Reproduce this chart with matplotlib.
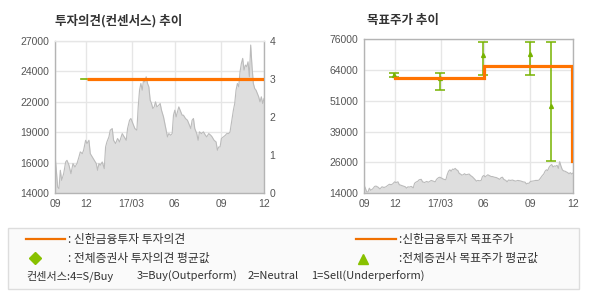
import numpy as np
import matplotlib
matplotlib.use("Agg")
import matplotlib.pyplot as plt
from matplotlib.patches import Rectangle
from matplotlib.lines import Line2D

# ---------------- data ----------------
# trading-day index of price samples (0 = left edge, 314 = right edge)
price_day = [0,2,4,6,8,10,13,16,18,21,24,27,30,33,36,38,41,43,46,48,51,53,56,59,62,64,66,68,71,74,
             76,78,81,83,86,88,91,94,97,101,104,107,109,112,114,117,120,123,125,127,129,131,133,135,137,
             139,141,143,145,147,149,151,153,156,158,160,163,165,167,169,171,174,176,178,180,182,184,186,
             188,191,193,196,199,202,204,206,208,210,213,215,217,220,223,226,228,231,234,236,239,242,244,
             246,248,250,253,256,258,261,263,266,268,270,272,274,276,278,280,282,284,286,288,290,292,294,
             296,298,300,302,304,306,308,310,312,314]
price = [17220,15940,14510,14370,15940,15080,15650,16650,16790,16370,15650,16510,16220,16510,17080,
         17510,17360,17650,18500,18220,18500,17360,17080,16790,16510,15940,16510,16370,16650,16080,
         17930,18360,18790,19360,19500,18500,18220,18650,18360,19070,18790,18500,19500,20210,20360,
         19930,19500,19360,21350,22780,23350,22780,23630,23490,23920,23350,23060,21920,21640,21210,
         21350,21780,21350,21500,21640,21070,20500,19930,19360,18790,19070,18930,19070,20640,21070,
         20500,20930,21350,21070,20640,20640,20360,20210,19790,19500,20210,20360,19500,19070,18500,
         19220,19070,19220,18930,18790,19070,18930,18790,18500,18360,17650,17930,17930,18650,18790,
         18930,19070,19070,19220,20360,21070,21640,22780,23350,23060,24350,25060,25490,24490,24920,
         24780,25200,23920,26630,24780,23350,22920,22780,22490,22210,21780,22210,21640,22070]

tick_day = [0, 46, 115, 180, 250, 314]
tick_lbl = ["09", "12", "17/03", "06", "09", "12"]

# investment opinion (Shinhan) and consensus average
opinion_day = [48.5, 314]
opinion = [3, 3]
cons_op_day = [39.5, 48.5]
cons_op = [3, 3]

# target price (Shinhan), step series
target_day = [47, 181, 181, 312.5, 312.5]
target = [60500, 60500, 65300, 65300, 26800]

# consensus target price: day, average, min, max
ctp_day = [45, 114.5, 179, 250, 281]
ctp_avg = [61600, 60500, 69650, 70060, 49040]
ctp_min = [60770, 55500, 61450, 61450, 26930]
ctp_max = [62260, 62260, 75030, 75030, 75030]

left_ylbl = ["14000", "16000", "19000", "22000", "24000", "27000"]
right_ylbl = ["14000", "26000", "39000", "51000", "64000", "76000"]

# ---------------- style ----------------
ORANGE = "#FF7300"
GREEN = "#77B300"
FILL = "#DEDEDE"
EDGE = "#BBBBBB"
GRID = "#E6E6E6"
SPINE = "#B4B4B4"
TICKC = "#555555"
TXT = "#333333"

plt.rcParams['font.family'] = ['Noto Sans CJK KR', 'DejaVu Sans']

W, H = 590, 300
fig = plt.figure(figsize=(W / 100, H / 100), dpi=100)
fig.patch.set_facecolor("white")

def fx(px):
    return px / W

def fy(py):
    return 1 - py / H

def setup(ax, ylo, yhi, ylabels):
    ax.set_xlim(0, 314)
    ax.set_ylim(ylo, yhi)
    ax.set_xticks(tick_day)
    ax.set_xticklabels(tick_lbl)
    yt = np.linspace(ylo, yhi, len(ylabels))
    ax.set_yticks(yt)
    ax.set_yticklabels(ylabels)
    ax.grid(True, color=GRID, lw=1.0)
    ax.set_axisbelow(True)
    ax.tick_params(length=0, pad=4, colors=TICKC, labelsize=7.5)
    for lab in ax.get_xticklabels() + ax.get_yticklabels():
        lab.set_fontfamily('Liberation Sans')
    for s in ax.spines.values():
        s.set_color(SPINE)
        s.set_linewidth(1.0)

# ---- left chart ----
axL = fig.add_axes([fx(55), fy(193), fx(209), (193 - 40.7) / H])
setup(axL, 14000, 27000, left_ylbl)
axL.spines['top'].set_color(GRID)
axL.fill_between(price_day, price, 14000, color=FILL, lw=0, zorder=1)
axL.plot(price_day, price, color=EDGE, lw=0.8, zorder=2)
axR = axL.twinx()
axR.set_ylim(0, 4)
axR.set_yticks([0, 1, 2, 3, 4])
axR.tick_params(length=0, pad=4, colors=TICKC, labelsize=7.5)
for lab in axR.get_yticklabels():
    lab.set_fontfamily('Liberation Sans')
for s in axR.spines.values():
    s.set_visible(False)
axR.plot(cons_op_day, cons_op, color=GREEN, lw=1.2, zorder=3)
axR.plot(opinion_day, opinion, color=ORANGE, lw=2.3, zorder=4, solid_capstyle='butt')

fig.text(fx(55), fy(20.5), "투자의견(컨센서스) 추이", fontsize=9, fontweight='bold',
         color=TXT, va='center', ha='left')

# ---- right chart ----
ax2 = fig.add_axes([fx(364), fy(193), fx(209), (193 - 39.3) / H])
setup(ax2, 14000, 76000, right_ylbl)
ax2.fill_between(price_day, price, 14000, color=FILL, lw=0, zorder=1)
ax2.plot(price_day, price, color=EDGE, lw=0.8, zorder=2)
avg = np.array(ctp_avg)
ax2.errorbar(ctp_day, ctp_avg,
             yerr=[avg - np.array(ctp_min), np.array(ctp_max) - avg],
             fmt='^', color=GREEN, ms=2.8, lw=1.1, capsize=3.3, capthick=1.1, zorder=3)
ax2.plot(target_day, target, color=ORANGE, lw=2.3, zorder=4, solid_joinstyle='miter')

fig.text(fx(367), fy(20.5), "목표주가 추이", fontsize=9, fontweight='bold',
         color=TXT, va='center', ha='left')

# ---- legend box ----
fig.patches.append(Rectangle((fx(8), fy(289)), fx(571), (289 - 228) / H,
                             transform=fig.transFigure, facecolor="#FAFAFA",
                             edgecolor="#DDDDDD", lw=1.0))
fig.lines.append(Line2D([fx(26), fx(65)], [fy(239), fy(239)], transform=fig.transFigure,
                        color="#F07000", lw=1.6))
fig.text(fx(68), fy(239), ": 신한금융투자 투자의견", fontsize=8.5, color=TXT, va='center')
fig.lines.append(Line2D([fx(35)], [fy(258)], transform=fig.transFigure, marker='D',
                        color="#88C100", ms=6.5, lw=0))
fig.text(fx(68), fy(258), ": 전체증권사 투자의견 평균값", fontsize=8.5, color=TXT, va='center')
fig.lines.append(Line2D([fx(356), fx(396)], [fy(239), fy(239)], transform=fig.transFigure,
                        color="#F07000", lw=1.6))
fig.text(fx(399), fy(239), ":신한금융투자 목표주가", fontsize=8.5, color=TXT, va='center')
fig.lines.append(Line2D([fx(363)], [fy(259)], transform=fig.transFigure, marker='^',
                        color="#88C100", ms=6.5, lw=0))
fig.text(fx(399), fy(258), ":전체증권사 목표주가 평균값", fontsize=8.5, color=TXT, va='center')

fig.text(fx(26), fy(276), "컨센서스:4=S/Buy", fontsize=8, color=TXT, va='center')
fig.text(fx(137), fy(276), "3=Buy(Outperform)", fontsize=8, color=TXT, va='center')
fig.text(fx(248), fy(276), "2=Neutral", fontsize=8, color=TXT, va='center')
fig.text(fx(311), fy(276), "1=Sell(Underperform)", fontsize=8, color=TXT, va='center')

assert len(price_day) == len(price)
fig.savefig("out.png", dpi=100, facecolor="white")
